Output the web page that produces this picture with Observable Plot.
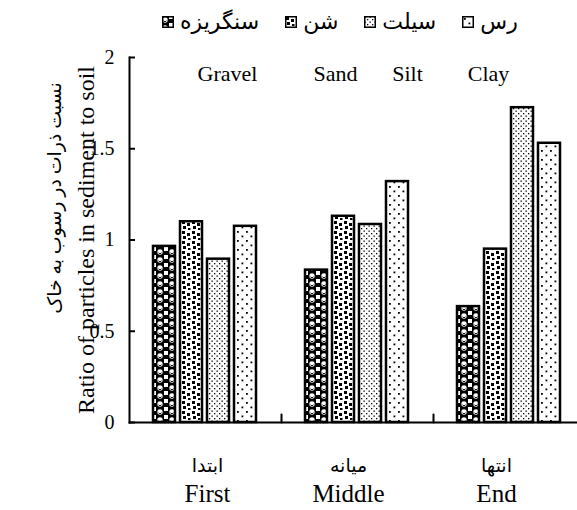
<!DOCTYPE html>
<html>
<head>
<meta charset="utf-8">
<script src="https://cdn.jsdelivr.net/npm/d3@7"></script>
<script src="https://cdn.jsdelivr.net/npm/@observablehq/plot@0.6"></script>
<style>
  html, body { margin: 0; padding: 0; background: white; width: 577px; height: 510px; overflow: hidden; }
  #legend { height: 40px; display: flex; align-items: center; justify-content: flex-start; padding-left: 162px; padding-top: 4px;
    font-family: "Liberation Serif", "DejaVu Sans", serif; font-size: 22px; color: black; box-sizing: border-box; }
  .item { display: flex; align-items: center; margin-right: 26px; }
  .item svg { margin-right: 6px; }
  #defs { position: absolute; width: 0; height: 0; }
</style>
</head>
<body>
<svg id="defs" width="0" height="0">
  <defs>
    <pattern id="pat-Gravel" patternUnits="userSpaceOnUse" width="12" height="16">
      <rect width="12" height="16" fill="black"/>
      <circle cx="3" cy="4" r="2.7" fill="white"/>
      <path d="M1.2,4.5 A2,2 0 0 0 4.8,4.5" fill="none" stroke="black" stroke-width="0.9"/>
      <rect x="7" y="7" width="4" height="4" fill="white"/>
      <circle cx="3" cy="12" r="2.7" fill="white"/>
      <path d="M1.2,12.5 A2,2 0 0 0 4.8,12.5" fill="none" stroke="black" stroke-width="0.9"/>
      <rect x="7" y="15" width="4" height="1" fill="white"/>
      <rect x="7" y="0" width="4" height="3" fill="white"/>
    </pattern>
    <pattern id="pat-Sand" patternUnits="userSpaceOnUse" width="10" height="10">
      <rect width="10" height="10" fill="white"/>
      <rect x="1" y="1" width="3" height="3" fill="black"/>
      <rect x="6" y="3" width="3" height="3" fill="black"/>
      <rect x="2" y="6" width="3" height="3" fill="black"/>
      <rect x="7" y="8" width="2.5" height="2" fill="black"/>
    </pattern>
    <pattern id="pat-Silt" patternUnits="userSpaceOnUse" width="5" height="5">
      <rect width="5" height="5" fill="white"/>
      <rect x="0.5" y="0.5" width="1.3" height="1.3" fill="black"/>
      <rect x="3" y="3" width="1.3" height="1.3" fill="black"/>
    </pattern>
    <pattern id="pat-Clay" patternUnits="userSpaceOnUse" width="9" height="9">
      <rect width="9" height="9" fill="white"/>
      <rect x="2" y="2" width="1.8" height="1.8" fill="black"/>
      <rect x="6.5" y="6.5" width="1.8" height="1.8" fill="black"/>
    </pattern>
  </defs>
</svg>
<div id="legend"></div>
<div id="chart"></div>
<script>
// ---- data ----
const groups = ["First", "Middle", "End"];
const groupsFa = ["ابتدا", "میانه", "انتها"];
const series = ["Gravel", "Sand", "Silt", "Clay"];
const seriesFa = ["سنگریزه", "شن", "سیلت", "رس"];
const gravel = [0.965, 0.835, 0.635];
const sand   = [1.10, 1.13, 0.95];
const silt   = [0.895, 1.085, 1.725];
const clay   = [1.075, 1.32, 1.53];
const yTicks = [0, 0.5, 1, 1.5, 2];
const yLabelEn = "Ratio of particles in sediment to soil";
const yLabelFa = "نسبت ذرات در رسوب به خاک";

const values = {Gravel: gravel, Sand: sand, Silt: silt, Clay: clay};
const data = groups.flatMap((g, i) => series.map(s => ({group: g, series: s, value: values[s][i]})));

// ---- legend ----
const legend = document.getElementById("legend");
series.forEach((s, j) => {
  const item = document.createElement("div");
  item.className = "item";
  item.innerHTML = `<svg width="12" height="12"><rect x="0.75" y="0.75" width="10.5" height="10.5" fill="url(#pat-${s})" stroke="black" stroke-width="1.5"/></svg><span dir="rtl">${seriesFa[j]}</span>`;
  legend.appendChild(item);
});

const serif = "'Liberation Serif', 'DejaVu Sans', serif";
const tickLine = {draw(c, l) { c.moveTo(0, 0); c.lineTo(0, -l); }};
const labelShift = [2, -9, -13];

const chart = Plot.plot({
  width: 577, height: 470,
  marginLeft: 128, marginRight: 14, marginTop: 17, marginBottom: 88,
  style: {fontFamily: serif, fontSize: "20px", background: "white", color: "black"},
  fx: {domain: groups, range: [128, 586], padding: 0, label: null, axis: null},
  x: {domain: series, paddingInner: 0.18, paddingOuter: 0.82, axis: null},
  y: {domain: [0, 2], label: null},
  color: {type: "identity"},
  marks: [
    Plot.barY(data, {fx: "group", x: "series", y: "value", fill: d => `url(#pat-${d.series})`, stroke: "black", strokeWidth: 2.5}),
    Plot.axisY(yTicks, {anchor: "left", tickSize: 0, tickPadding: 15, tickFormat: d => String(d), fontSize: 20, fontFamily: serif, label: null}),
    Plot.axisY(yTicks, {anchor: "left", tickSize: 6, dx: 6, tickFormat: () => "", strokeWidth: 2, stroke: "black", label: null}),
    Plot.frame({anchor: "left", facet: "super", stroke: "black", strokeWidth: 2}),
    Plot.frame({anchor: "bottom", facet: "super", stroke: "black", strokeWidth: 2}),
    Plot.vector(groups, {fx: d => d, frameAnchor: "bottom-right", length: 8, rotate: 0, anchor: "start", shape: tickLine, stroke: "black", strokeWidth: 2}),
    ...groups.map((g, i) => Plot.text([g], {fx: d => d, frameAnchor: "bottom", text: d => groupsFa[groups.indexOf(d)], textAnchor: "middle", lineAnchor: "middle", dx: labelShift[i], dy: 43, fontSize: 19})),
    ...groups.map((g, i) => Plot.text([g], {fx: d => d, frameAnchor: "bottom", text: d => d, textAnchor: "middle", lineAnchor: "middle", dx: labelShift[i], dy: 71, fontSize: 25})),
    ...series.map((s, k) => Plot.text([s], {facet: "super", frameAnchor: "top-left", text: d => d, textAnchor: "middle", lineAnchor: "middle", dx: [98, 206, 278, 359][k], dy: 16, fontSize: 22})),
    Plot.text([yLabelEn], {facet: "super", frameAnchor: "left", text: d => d, rotate: -90, dx: -43, textAnchor: "middle", lineAnchor: "middle", fontSize: 24}),
    Plot.text([yLabelFa], {facet: "super", frameAnchor: "left", text: d => d, rotate: -90, dx: -75, dy: -42, textAnchor: "middle", lineAnchor: "middle", fontSize: 19})
  ]
});
document.getElementById("chart").appendChild(chart);
</script>
</body>
</html>
